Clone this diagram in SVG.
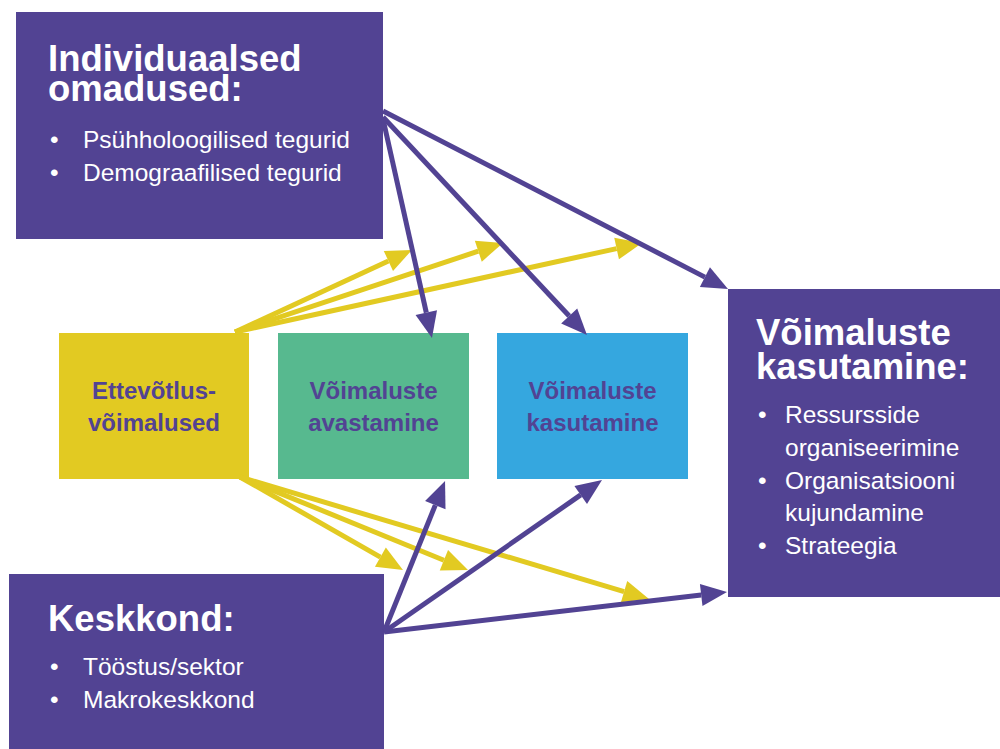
<svg xmlns="http://www.w3.org/2000/svg" width="1000" height="749" viewBox="0 0 1000 749">
<defs>
<style>
.pbox{fill:#524393}
.title{font-family:"Liberation Sans",Arial,sans-serif;font-weight:bold;font-size:36.5px;fill:#ffffff}
.item{font-family:"Liberation Sans",Arial,sans-serif;font-size:24.5px;fill:#ffffff}
.mid{font-family:"Liberation Sans",Arial,sans-serif;font-weight:bold;font-size:24px;fill:#524393;text-anchor:middle}
.pl{stroke:#524393;stroke-width:5;fill:none;marker-end:url(#ap)}
.yl{stroke:#E2CA22;stroke-width:5;fill:none;marker-end:url(#ay)}
</style>
<marker id="ap" markerUnits="userSpaceOnUse" markerWidth="26" markerHeight="22" refX="0" refY="11" orient="auto" overflow="visible">
<path d="M0,0 L26,11 L0,22 z" fill="#524393"/>
</marker>
<marker id="ay" markerUnits="userSpaceOnUse" markerWidth="26" markerHeight="22" refX="0" refY="11" orient="auto" overflow="visible">
<path d="M0,0 L26,11 L0,22 z" fill="#E2CA22"/>
</marker>
</defs>
<rect width="1000" height="749" fill="#ffffff"/>

<g id="individuaalsed">
<rect class="pbox" x="16" y="12" width="367" height="227"/>
<text class="title" x="48" y="71">Individuaalsed<tspan x="48" y="101">omadused:</tspan></text>
<text class="item" x="50" y="148">•</text>
<text class="item" x="83" y="148">Psühholoogilised tegurid</text>
<text class="item" x="50" y="181">•</text>
<text class="item" x="83" y="181">Demograafilised tegurid</text>
</g>

<g id="keskkond">
<rect class="pbox" x="9" y="574" width="375" height="175"/>
<text class="title" x="48" y="631">Keskkond:</text>
<text class="item" x="50" y="675">•</text>
<text class="item" x="83" y="675">Tööstus/sektor</text>
<text class="item" x="50" y="708">•</text>
<text class="item" x="83" y="708">Makrokeskkond</text>
</g>

<g id="kasutamine-box">
<rect class="pbox" x="728" y="289" width="272" height="308"/>
<text class="title" x="756" y="345">Võimaluste<tspan x="756" y="379">kasutamine:</tspan></text>
<text class="item" x="758" y="423">•</text>
<text class="item" x="785" y="423">Ressursside</text>
<text class="item" x="785" y="456">organiseerimine</text>
<text class="item" x="758" y="489">•</text>
<text class="item" x="785" y="489">Organisatsiooni</text>
<text class="item" x="785" y="521">kujundamine</text>
<text class="item" x="758" y="554">•</text>
<text class="item" x="785" y="554">Strateegia</text>
</g>

<g id="ettevotlusvoimalused">
<rect x="59" y="333" width="190" height="146" fill="#E2CA22"/>
<text class="mid" x="154" y="399">Ettevõtlus-</text>
<text class="mid" x="154" y="431">võimalused</text>
</g>

<g id="avastamine">
<rect x="278" y="333" width="191" height="146" fill="#57B98F"/>
<text class="mid" x="373.5" y="399">Võimaluste</text>
<text class="mid" x="373.5" y="431">avastamine</text>
</g>

<g id="kasutamine">
<rect x="497" y="333" width="191" height="146" fill="#35A7DF"/>
<text class="mid" x="592.5" y="399">Võimaluste</text>
<text class="mid" x="592.5" y="431">kasutamine</text>
</g>

<g id="connectors">
<line class="yl" x1="235" y1="332" x2="388.4" y2="260.9"/>
<line class="yl" x1="235" y1="332" x2="478.3" y2="251.2"/>
<line class="yl" x1="235" y1="332" x2="616.6" y2="248.6"/>
<line class="yl" x1="240" y1="477" x2="380.4" y2="557.1"/>
<line class="yl" x1="240" y1="477" x2="443.9" y2="560.2"/>
<line class="yl" x1="240" y1="477" x2="624.1" y2="591.6"/>
<line class="pl" x1="383" y1="111" x2="704.9" y2="277.1"/>
<line class="pl" x1="383" y1="117" x2="569.2" y2="316.0"/>
<line class="pl" x1="383" y1="119" x2="426.3" y2="312.6"/>
<line class="pl" x1="384" y1="632" x2="435.3" y2="505.1"/>
<line class="pl" x1="384" y1="632" x2="580.7" y2="494.9"/>
<line class="pl" x1="384" y1="632" x2="701.2" y2="595.0"/>
</g>
</svg>
